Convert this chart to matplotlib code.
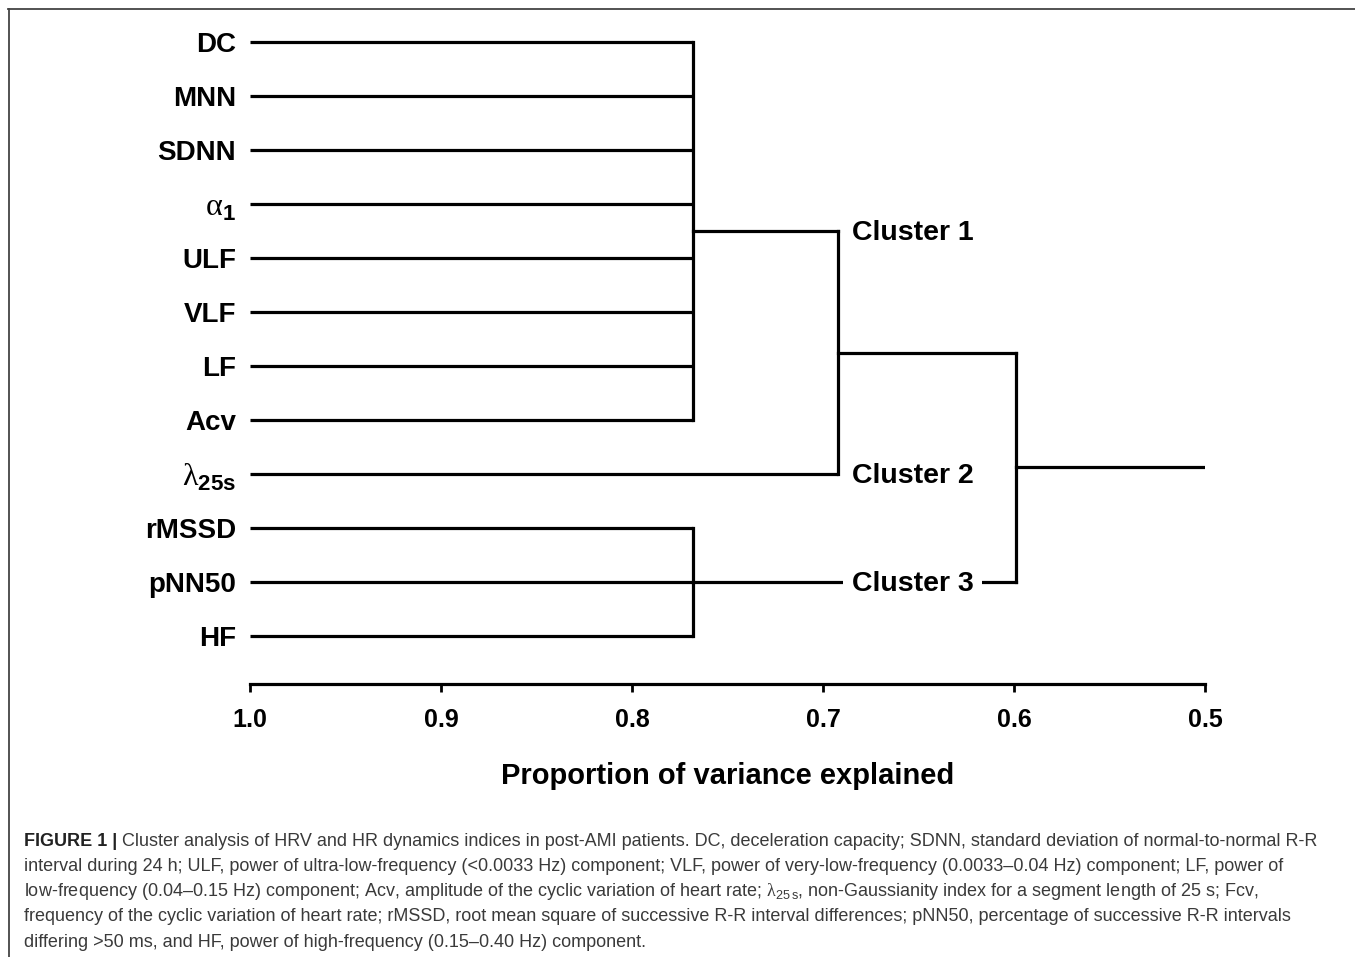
import numpy as np
import matplotlib.pyplot as plt
from matplotlib.lines import Line2D

plt.rcParams["font.family"] = ["Liberation Sans", "DejaVu Sans"]
plt.rcParams["mathtext.fontset"] = "custom"
plt.rcParams["mathtext.rm"] = "Liberation Serif"
plt.rcParams["mathtext.it"] = "Liberation Sans:italic"
plt.rcParams["mathtext.bf"] = "Liberation Sans:bold"
plt.rcParams["mathtext.sf"] = "Liberation Sans"

# ---------------- data ----------------
indices = ["DC", "MNN", "SDNN", r"$\mathrm{\alpha}_{\mathbf{1}}$", "ULF", "VLF", "LF", "Acv",
           r"$\mathrm{\lambda}_{\mathbf{25s}}$", "rMSSD", "pNN50", "HF"]
cluster_of = [1, 1, 1, 1, 1, 1, 1, 1, 2, 3, 3, 3]
cluster_names = ["Cluster 1", "Cluster 2", "Cluster 3"]

merge_c1 = 0.768    # members of cluster 1 join
merge_c3 = 0.768    # members of cluster 3 join
merge_c12 = 0.692   # cluster 1 + cluster 2
merge_root = 0.599  # (1 + 2) + 3
x_end = 0.5
x_ticks = [1.0, 0.9, 0.8, 0.7, 0.6, 0.5]
x_tick_labels = ["1.0", "0.9", "0.8", "0.7", "0.6", "0.5"]

caption_bold = "FIGURE 1 |"
caption_lines = [
    " Cluster analysis of HRV and HR dynamics indices in post-AMI patients. DC, deceleration capacity; SDNN, standard deviation of normal-to-normal R-R",
    "interval during 24 h; ULF, power of ultra-low-frequency (<0.0033 Hz) component; VLF, power of very-low-frequency (0.0033\u20130.04 Hz) component; LF, power of",
    "low-frequency (0.04\u20130.15 Hz) component; Acv, amplitude of the cyclic variation of heart rate; $\\mathrm{\\lambda}_{\\mathsf{25\\,s}}$, non-Gaussianity index for a segment length of 25 s; Fcv,",
    "frequency of the cyclic variation of heart rate; rMSSD, root mean square of successive R-R interval differences; pNN50, percentage of successive R-R intervals",
    "differing >50 ms, and HF, power of high-frequency (0.15\u20130.40 Hz) component.",
]

W, H = 1355, 957
fig = plt.figure(figsize=(W / 100, H / 100), dpi=100)
ax = fig.add_axes([250 / W, 1 - 684 / H, 955 / W, (684 - 15) / H])

lw = 2.3
col = "black"
ypos = np.arange(len(indices))
cl = np.array(cluster_of)

y_c1 = ypos[cl == 1]
y_c3 = ypos[cl == 3]
y_c2 = ypos[cl == 2][0]

# leaf lines
for y, c in zip(ypos, cl):
    end = {1: merge_c1, 2: merge_c12, 3: merge_c3}[c]
    ax.plot([1.0, end], [y, y], color=col, lw=lw, solid_capstyle="butt")

# cluster 1 node
ax.plot([merge_c1, merge_c1], [y_c1.min(), y_c1.max()], color=col, lw=lw)
n1 = y_c1.mean()
ax.plot([merge_c1, merge_c12], [n1, n1], color=col, lw=lw)
# cluster 1 + 2
ax.plot([merge_c12, merge_c12], [n1, y_c2], color=col, lw=lw)
n12 = (n1 + y_c2) / 2
ax.plot([merge_c12, merge_root], [n12, n12], color=col, lw=lw)
# cluster 3 node
ax.plot([merge_c3, merge_c3], [y_c3.min(), y_c3.max()], color=col, lw=lw)
n3 = y_c3.mean()
ax.plot([merge_c3, merge_root], [n3, n3], color=col, lw=lw)
# root
ax.plot([merge_root, merge_root], [n12, n3], color=col, lw=lw)
nr = (n12 + n3) / 2
ax.plot([merge_root, x_end], [nr, nr], color=col, lw=lw)

# cluster labels
lab_x = 0.685
for name, y in zip(cluster_names, [n1, y_c2, n3]):
    ax.text(lab_x, y + 0.03, name, ha="left", va="center", fontsize=20.5, fontweight="bold",
            bbox=dict(boxstyle="square,pad=0.3", fc="white", ec="none"), zorder=5)

ax.set_xlim(1.0, 0.5)
ax.set_ylim((684 - 42) / 54, (15 - 42) / 54)

ax.set_yticks(ypos)
ax.set_yticklabels(indices, fontsize=20, fontweight="bold")
ax.tick_params(axis="y", length=0, pad=10)
# greek labels a bit larger, like the original
for t in ax.get_yticklabels():
    if "mathrm" in t.get_text():
        t.set_fontsize(23)

ax.set_xticks(x_ticks)
ax.set_xticklabels(x_tick_labels, fontsize=18, fontweight="bold")
ax.tick_params(axis="x", length=6, width=2, direction="out", pad=11)
ax.set_xlabel("Proportion of variance explained", fontsize=21, fontweight="bold",
              labelpad=22)

for s in ["left", "top", "right"]:
    ax.spines[s].set_visible(False)
ax.spines["bottom"].set_linewidth(2.3)

# frame around the figure panel
fig.add_artist(Line2D([8 / W, 1], [1 - 8.5 / H, 1 - 8.5 / H], color="#444444", lw=1.3))
fig.add_artist(Line2D([8.5 / W, 8.5 / W], [0, 1 - 8.5 / H], color="#444444", lw=1.3))

# caption
cap_color = "#3a3a3a"
cap_fs = 13
x0 = 24 / W
baselines = [846, 871, 896, 921, 947]
tb = fig.text(x0, 1 - baselines[0] / H, caption_bold, fontsize=cap_fs, fontweight="bold",
              color="#222222", va="baseline", ha="left")
fig.canvas.draw()
bw = tb.get_window_extent(fig.canvas.get_renderer()).width
fig.text(x0 + bw / W, 1 - baselines[0] / H, caption_lines[0], fontsize=cap_fs,
         color=cap_color, va="baseline", ha="left")
for line, b in zip(caption_lines[1:], baselines[1:]):
    fig.text(x0, 1 - b / H, line, fontsize=cap_fs, color=cap_color, va="baseline", ha="left")

fig.savefig("out.png", dpi=100)
